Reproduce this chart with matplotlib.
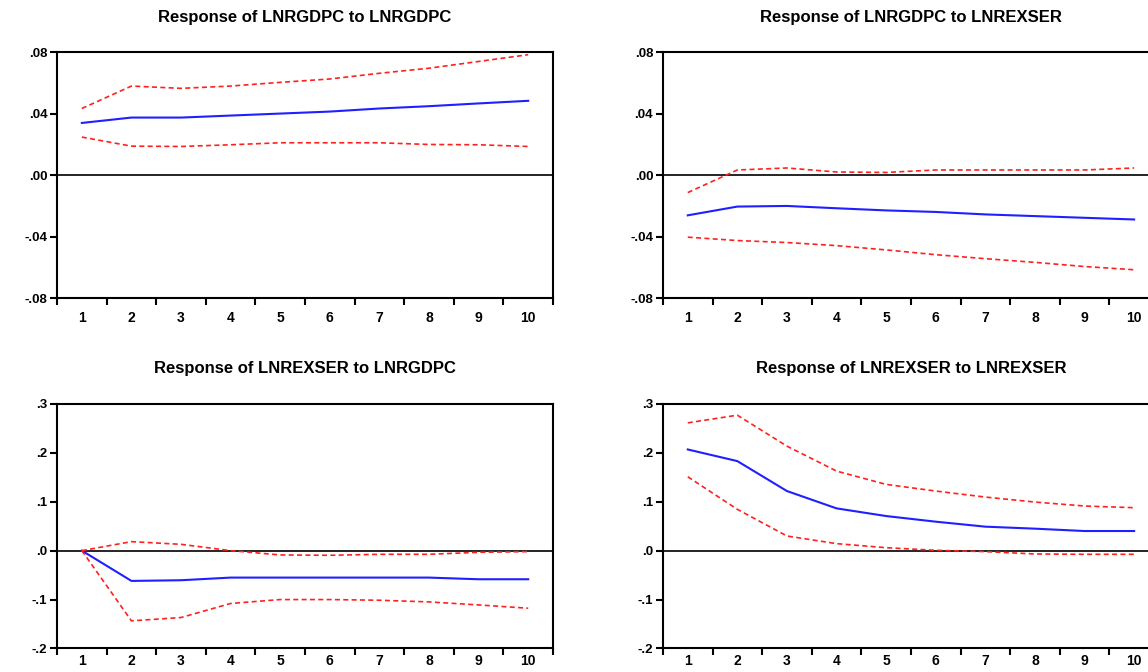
import numpy as np
import matplotlib.pyplot as plt

# impulse responses, periods 1..10
periods = np.arange(1, 11)

# Response of LNRGDPC to LNRGDPC
gdp_gdp = [0.0339, 0.0374, 0.0374, 0.0387, 0.0400, 0.0413, 0.0433, 0.0448, 0.0466, 0.0483]
gdp_gdp_hi = [0.0433, 0.0579, 0.0564, 0.0579, 0.0603, 0.0625, 0.0662, 0.0695, 0.0739, 0.0783]
gdp_gdp_lo = [0.0247, 0.0188, 0.0186, 0.0197, 0.0210, 0.0210, 0.0210, 0.0199, 0.0197, 0.0186]

# Response of LNRGDPC to LNREXSER
gdp_ex = [-0.0262, -0.0205, -0.0201, -0.0216, -0.0230, -0.0240, -0.0256, -0.0267, -0.0278, -0.0289]
gdp_ex_hi = [-0.0114, 0.0033, 0.0046, 0.0020, 0.0017, 0.0033, 0.0033, 0.0033, 0.0033, 0.0046]
gdp_ex_lo = [-0.0404, -0.0426, -0.0439, -0.0459, -0.0487, -0.0518, -0.0544, -0.0568, -0.0595, -0.0616]

# Response of LNREXSER to LNRGDPC
ex_gdp = [0.0, -0.0619, -0.0605, -0.0551, -0.0551, -0.0551, -0.0551, -0.0551, -0.0585, -0.0585]
ex_gdp_hi = [0.0, 0.0184, 0.0129, 0.0, -0.0088, -0.0095, -0.0075, -0.0075, -0.0034, -0.0020]
ex_gdp_lo = [0.0, -0.1435, -0.1367, -0.1080, -0.1000, -0.1000, -0.1014, -0.1048, -0.1110, -0.1177]

# Response of LNREXSER to LNREXSER
ex_ex = [0.2068, 0.1830, 0.1218, 0.0864, 0.0707, 0.0592, 0.0490, 0.0449, 0.0401, 0.0401]
ex_ex_hi = [0.2612, 0.2769, 0.2136, 0.1626, 0.1354, 0.1218, 0.1095, 0.0993, 0.0912, 0.0878]
ex_ex_lo = [0.1510, 0.0844, 0.0299, 0.0143, 0.0060, 0.0007, -0.0020, -0.0068, -0.0075, -0.0075]

titles = ["Response of LNRGDPC to LNRGDPC", "Response of LNRGDPC to LNREXSER",
          "Response of LNREXSER to LNRGDPC", "Response of LNREXSER to LNREXSER"]
top_ticks = [-0.08, -0.04, 0.0, 0.04, 0.08]
top_labels = ["-.08", "-.04", ".00", ".04", ".08"]
bot_ticks = [-0.2, -0.1, 0.0, 0.1, 0.2, 0.3]
bot_labels = ["-.2", "-.1", ".0", ".1", ".2", ".3"]

plt.rcParams['font.family'] = ['Liberation Sans', 'DejaVu Sans']
plt.rcParams['font.weight'] = 'bold'

fig = plt.figure(figsize=(11.48, 6.72), dpi=100)

panels = [
    ([0.0497, 0.5565, 0.432, 0.366], gdp_gdp, gdp_gdp_hi, gdp_gdp_lo, top_ticks, top_labels, (-0.08, 0.08), 9),
    ([0.5775, 0.5565, 0.432, 0.366], gdp_ex, gdp_ex_hi, gdp_ex_lo, top_ticks, top_labels, (-0.08, 0.08), 9),
    ([0.0497, 0.0350, 0.432, 0.3640], ex_gdp, ex_gdp_hi, ex_gdp_lo, bot_ticks, bot_labels, (-0.2, 0.3), 4),
    ([0.5775, 0.0350, 0.432, 0.3640], ex_ex, ex_ex_hi, ex_ex_lo, bot_ticks, bot_labels, (-0.2, 0.3), 4),
]

for i, (rect, mid, hi, lo, yt, yl, ylim, xpad) in enumerate(panels):
    ax = fig.add_axes(rect)
    ax.axhline(0, color='black', lw=1.2)
    ax.plot(periods, mid, color='#1f1fff', lw=1.5)
    ax.plot(periods, hi, color='#ff2020', lw=1.2, ls=(0, (3, 2)))
    ax.plot(periods, lo, color='#ff2020', lw=1.2, ls=(0, (3, 2)))
    ax.set_xlim(0.5, 10.5)
    ax.set_ylim(*ylim)
    ax.set_yticks(yt)
    ax.set_yticklabels(yl)
    ax.set_xticks(periods)
    ax.set_xticks(np.arange(0.5, 11, 1), minor=True)
    ax.tick_params(axis='x', which='major', length=0, pad=xpad, labelsize=10)
    ax.tick_params(axis='x', which='minor', length=5, width=1.5, direction='out')
    ax.tick_params(axis='y', length=5, width=1.5, direction='out', pad=2, labelsize=9.5)
    for s in ax.spines.values():
        s.set_linewidth(1.5)
    ax.set_title(titles[i], fontsize=12, fontweight='bold', pad=22)

plt.savefig('out.png', dpi=100)
